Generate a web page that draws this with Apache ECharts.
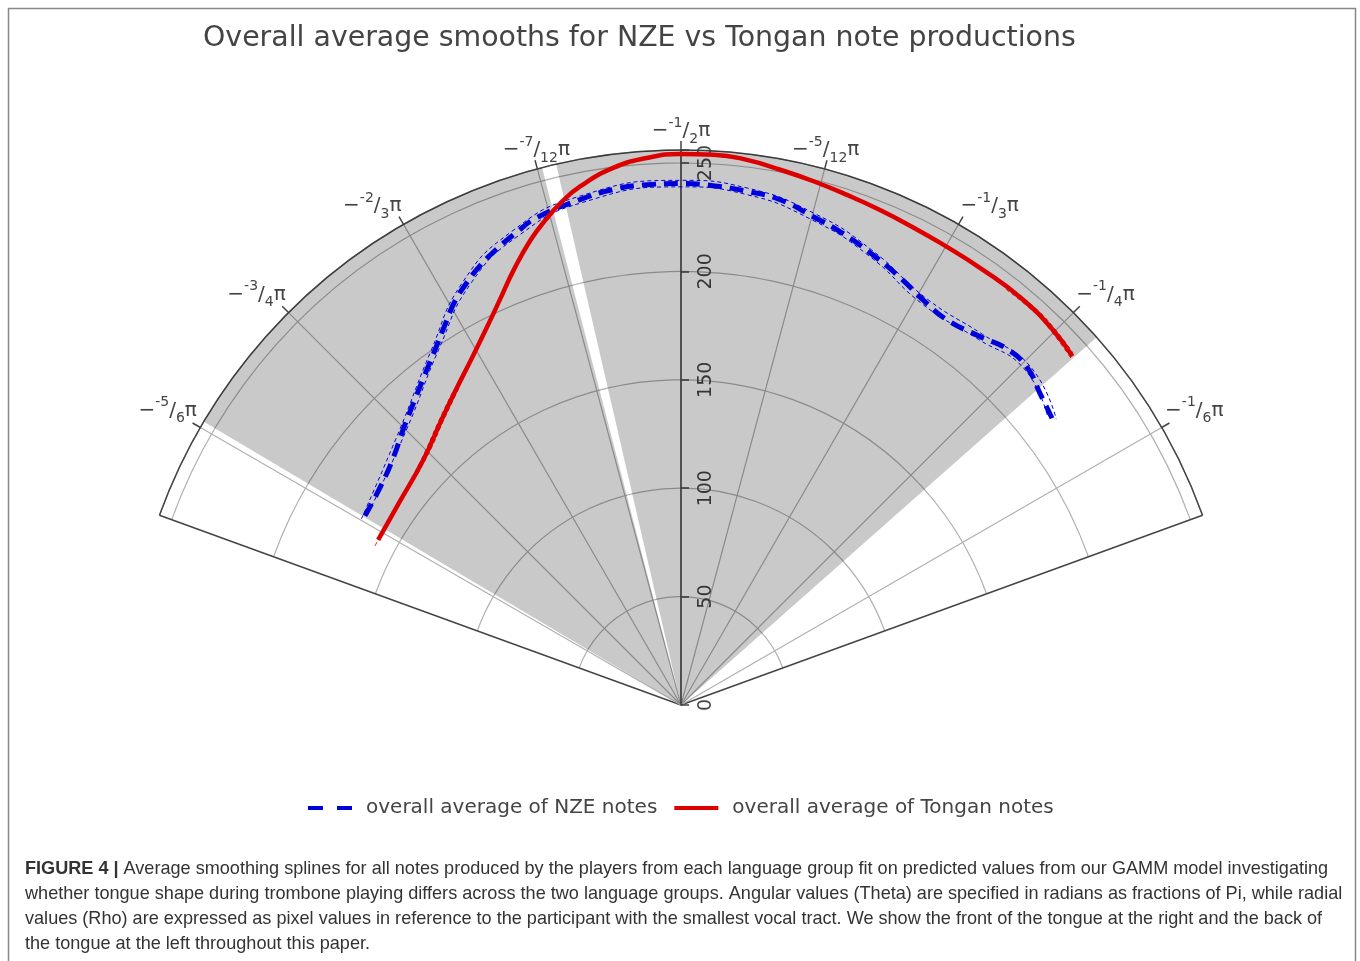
<!DOCTYPE html>
<html>
<head>
<meta charset="utf-8">
<title>Overall average smooths for NZE vs Tongan note productions</title>
<script src="https://cdn.jsdelivr.net/npm/echarts@6/dist/echarts.min.js"></script>
<style>
  html, body { margin: 0; padding: 0; background: #fff; }
  #chart { width: 1360px; height: 961px; }
</style>
</head>
<body>
<div id="chart"></div>
<script>
// polar points: [rho (pixels), theta (degrees, -90 = -1/2 pi)]
const nzeMean = [
  [169.9, -149.1], [171.5, -143.7], [174.9, -139.4], [180.4, -135.3], [186.8, -131.1],
  [192.8, -127.8], [199.3, -124.7], [206.5, -121.8], [213.3, -119.3], [218.4, -116.9],
  [222.8, -114.6], [226.7, -112.1], [230.5, -109.4], [234.4, -106.5], [237.7, -101.3],
  [239.8, -97.5], [240.5, -93.7], [240.5, -90.1], [240.0, -86.5], [238.9, -82.7],
  [237.5, -78.9], [233.4, -74.9], [230.3, -71.4], [226.1, -67.3], [221.5, -62.8],
  [217.4, -58.8], [215.9, -55.4], [218.9, -50.9], [222.7, -47.5], [223.0, -44.3],
  [219.2, -40.9], [216.3, -37.7]
];
const nzeUpper = [
  [170.6, -149.8], [181.2, -135.9], [200.0, -125.2], [219.3, -117.4], [231.8, -109.8],
  [239.2, -101.5], [242.0, -90.1], [240.4, -82.7], [235.0, -74.9], [227.6, -67.3],
  [219.0, -58.8], [220.4, -50.9], [224.4, -44.2], [217.6, -37.3]
];
const nzeLower = [
  [169.2, -148.4], [179.6, -134.7], [198.6, -124.2], [217.5, -116.4], [229.2, -109.0],
  [236.2, -101.1], [239.0, -90.1], [237.4, -82.7], [231.8, -74.9], [224.6, -67.3],
  [215.8, -58.8], [217.4, -50.9], [221.6, -44.4], [215.0, -38.1]
];

const tonganMean = [
  [159.1, -151.4], [160.1, -144.1], [164.1, -136.4], [171.8, -130.0], [178.7, -125.5],
  [186.4, -121.3], [195.1, -117.5], [204.7, -114.1], [215.1, -111.0], [225.5, -107.9],
  [232.3, -105.6], [238.6, -103.3], [243.7, -101.0], [249.7, -97.2],
  [252.8, -93.6], [254.2, -90.1], [254.3, -86.6], [253.3, -83.1], [251.1, -79.5],
  [249.2, -75.8], [247.4, -71.9], [246.1, -68.1], [245.0, -64.4], [244.4, -60.7],
  [244.3, -55.2], [244.6, -50.0], [243.6, -45.2], [241.8, -41.7]
];
// the band is only visible beyond the thick line at both ends ('-' = gap)
const tonganUpper = [
  [159.1, -152.5], [160.3, -145.0], [164.3, -137.2], [172.0, -130.6], [178.9, -126.0],
  '-',
  [245.3, -52.0], [245.4, -48.0], [244.6, -45.2], [243.0, -41.9]
];
const tonganLower = [
  [159.1, -150.3], [159.9, -143.2], [163.9, -135.6], [171.6, -129.4], [178.5, -125.0],
  '-',
  [243.4, -52.0], [243.6, -48.0], [242.6, -45.1], [240.6, -41.5]
];

// grey background sectors (theta ranges)
const shadeStart = [-149.3, -103.0];
const shadeEnd = [-104.5, -41.5];

const rhoMax = 256;

const captionLines = [
  'Average smoothing splines for all notes produced by the players from each language group fit on predicted values from our GAMM model investigating',
  'whether tongue shape during trombone playing differs across the two language groups. Angular values (Theta) are specified in radians as fractions of Pi, while radial',
  'values (Rho) are expressed as pixel values in reference to the participant with the smallest vocal tract. We show the front of the tongue at the right and the back of',
  'the tongue at the left throughout this paper.'
];

const FONT = 'DejaVu Sans';
const CENTER = [681, 705];
const RADIUS = 555;
const NZE_NAME = 'overall average of NZE notes';
const TONGAN_NAME = 'overall average of Tongan notes';

function gcd(a, b) { return b ? gcd(b, a % b) : Math.abs(a); }

// theta in degrees -> "−-5/6π" style label
function piLabel(deg) {
  const n = Math.round(deg / 15);
  const g = gcd(n, 12);
  return '{m|\u2212}{s|' + (n / g) + '}{m|/}{d|' + (12 / g) + '}{m|\u03c0}';
}

function renderShade(params, api) {
  const cs = params.coordSys;
  const p0 = api.coord([api.value(0), api.value(1)]);
  const p1 = api.coord([api.value(0), api.value(2)]);
  const r = Math.hypot(p0[0] - cs.cx, p0[1] - cs.cy);
  return {
    type: 'sector',
    shape: {
      cx: cs.cx, cy: cs.cy, r0: 0, r: r,
      startAngle: Math.atan2(p0[1] - cs.cy, p0[0] - cs.cx),
      endAngle: Math.atan2(p1[1] - cs.cy, p1[0] - cs.cx),
      clockwise: true
    },
    style: { fill: 'rgba(0,0,0,0.21)' }
  };
}

function bandLine(name, data, color) {
  return {
    name: name, type: 'line', coordinateSystem: 'polar', polarIndex: 0,
    data: data, smooth: true, symbol: 'none', silent: true, connectNulls: false,
    lineStyle: { color: color, width: 1, type: [4, 3] }
  };
}

const hidden = {
  axisLine: { show: false }, axisTick: { show: false },
  axisLabel: { show: false }, splitLine: { show: false }
};

const chart = echarts.init(document.getElementById('chart'));

chart.setOption({
  animation: false,
  title: {
    text: 'Overall average smooths for NZE vs Tongan note productions',
    left: 198,
    top: 20,
    textStyle: { fontFamily: FONT, fontSize: 28.4, fontWeight: 'normal', color: '#444' }
  },
  legend: {
    data: [
      { name: NZE_NAME, icon: 'path://M0,0H15V4H0Z M29,0H44V4H29Z' },
      { name: TONGAN_NAME, icon: 'rect' }
    ],
    left: 303,
    top: 793,
    itemWidth: 44,
    itemHeight: 4,
    itemGap: 17,
    textStyle: { fontFamily: FONT, fontSize: 20, color: '#444', padding: [0, 0, 0, 9] }
  },
  polar: [
    { center: CENTER, radius: RADIUS },
    { center: CENTER, radius: RADIUS },
    { center: CENTER, radius: RADIUS }
  ],
  angleAxis: [
    {
      polarIndex: 0, type: 'value', min: -160, max: -20, interval: 140,
      startAngle: 160, endAngle: 20, clockwise: true,
      axisLine: { show: true, lineStyle: { color: '#444', width: 1.5 } },
      axisTick: { show: false }, axisLabel: { show: false },
      splitLine: { show: true, lineStyle: { color: '#444', width: 1.5 } }
    },
    {
      polarIndex: 1, type: 'value', min: -150, max: -30, interval: 15,
      startAngle: 150, endAngle: 30, clockwise: true,
      axisLine: { show: false },
      axisTick: { show: true, length: 9, lineStyle: { color: '#444', width: 1.5 } },
      axisLabel: {
        show: true, margin: 4, formatter: piLabel,
        rich: {
          m: { fontFamily: FONT, fontSize: 20, color: '#444', lineHeight: 30 },
          s: { fontFamily: FONT, fontSize: 14, color: '#444', lineHeight: 18, verticalAlign: 'top' },
          d: { fontFamily: FONT, fontSize: 14, color: '#444', lineHeight: 18, verticalAlign: 'bottom' }
        }
      },
      splitLine: { show: true, lineStyle: { color: '#b0b0b0', width: 1.2 } }
    },
    Object.assign({ polarIndex: 2, type: 'value', min: 0, max: 360, startAngle: 90 }, hidden)
  ],
  radiusAxis: [
    {
      polarIndex: 0, type: 'value', min: 0, max: rhoMax, interval: 50,
      axisLine: { show: false }, axisTick: { show: false }, axisLabel: { show: false },
      splitLine: { show: true, lineStyle: { color: '#b0b0b0', width: 1.2 } }
    },
    Object.assign({ polarIndex: 1, type: 'value', min: 0, max: rhoMax }, hidden),
    {
      polarIndex: 2, type: 'value', min: 0, max: rhoMax, interval: 50,
      axisLine: { show: true, lineStyle: { color: '#444', width: 1.5 } },
      axisTick: { show: true, length: -8, lineStyle: { color: '#444', width: 1.5 } },
      axisLabel: {
        show: true, rotate: 90, margin: -35, fontFamily: FONT, fontSize: 19, color: '#444',
        formatter: v => (v % 50 === 0 ? String(v) : '')
      },
      splitLine: { show: false }
    }
  ],
  series: [
    {
      type: 'custom', coordinateSystem: 'polar', polarIndex: 0, silent: true,
      renderItem: renderShade,
      data: shadeStart.map((s, i) => [rhoMax, s, shadeEnd[i]])
    },
    bandLine('nze-upper', nzeUpper, '#0000dd'),
    bandLine('nze-lower', nzeLower, '#0000dd'),
    bandLine('tongan-upper', tonganUpper, '#dd0000'),
    bandLine('tongan-lower', tonganLower, '#dd0000'),
    {
      name: NZE_NAME, type: 'line', coordinateSystem: 'polar', polarIndex: 0,
      data: nzeMean, smooth: true, symbol: 'none',
      itemStyle: { color: '#0000dd' },
      lineStyle: { color: '#0000dd', width: 5, type: [14, 8] }
    },
    {
      name: TONGAN_NAME, type: 'line', coordinateSystem: 'polar', polarIndex: 0,
      data: tonganMean, smooth: true, symbol: 'none',
      itemStyle: { color: '#dd0000' },
      lineStyle: { color: '#dd0000', width: 4.5 }
    }
  ],
  graphic: [
    {
      type: 'rect', silent: true,
      shape: { x: 8.5, y: 8.5, width: 1347, height: 1000 },
      style: { fill: 'none', stroke: '#888', lineWidth: 1.5 }
    },
    {
      type: 'text', left: 25, top: 856, silent: true,
      style: {
        text: '{b|FIGURE 4 |} ' + captionLines.join('\n'),
        fontFamily: 'Liberation Sans', fontSize: 18.1, lineHeight: 25, fill: '#333',
        rich: {
          b: { fontFamily: 'Liberation Sans', fontSize: 18.1, lineHeight: 25, fontWeight: 'bold', fill: '#333' }
        }
      }
    }
  ]
});
</script>
</body>
</html>
